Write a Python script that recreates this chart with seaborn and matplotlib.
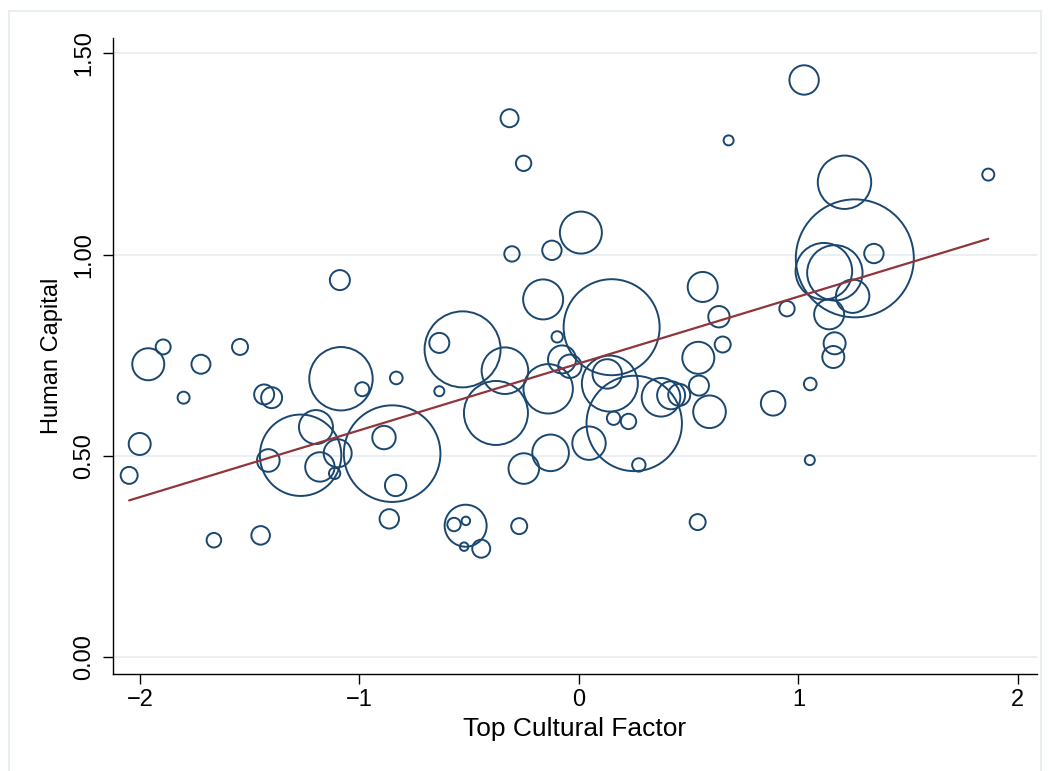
import numpy as np
import pandas as pd
import matplotlib
matplotlib.use("Agg")
import matplotlib.pyplot as plt
from matplotlib.patches import Rectangle
import seaborn as sns

# Country-level observations: cultural factor score, human capital index, population weight
culture = [
    -2.049, -2.001, -1.962, -1.894, -1.801, -1.722, -1.663, -1.544, -1.450, -1.434,
    -1.400, -1.415, -1.268, -1.198, -1.180, -1.099, -1.113, -1.084, -0.987, -0.832,
    -0.851, -0.888, -0.835, -0.864, -1.089, -0.636, -0.636, -0.530, -0.516, -0.569,
    -0.515, -0.523, -0.445, -0.272, -0.316, -0.252, -0.305, -0.123, 0.009, -0.163,
    -0.099, -0.337, -0.378, -0.140, -0.077, -0.041, 0.149, 0.141, 0.129, 0.252,
    0.158, 0.226, 0.273, 0.046, -0.129, -0.251, 0.374, 0.420, 0.457, 0.564,
    0.638, 0.655, 0.544, 0.547, 0.595, 0.541, 0.682, 0.885, 0.948, 1.054,
    1.052, 1.026, 1.210, 1.257, 1.116, 1.166, 1.344, 1.247, 1.140, 1.165,
    1.159, 1.865,
]
human_capital = [
    0.452, 0.530, 0.728, 0.771, 0.645, 0.728, 0.291, 0.771, 0.303, 0.653,
    0.645, 0.489, 0.502, 0.572, 0.473, 0.507, 0.457, 0.692, 0.666, 0.694,
    0.506, 0.546, 0.427, 0.344, 0.937, 0.781, 0.661, 0.765, 0.327, 0.330,
    0.339, 0.275, 0.270, 0.326, 1.339, 1.227, 1.002, 1.011, 1.055, 0.889,
    0.796, 0.712, 0.607, 0.667, 0.740, 0.723, 0.820, 0.680, 0.704, 0.581,
    0.594, 0.586, 0.478, 0.532, 0.508, 0.469, 0.646, 0.651, 0.652, 0.920,
    0.846, 0.777, 0.744, 0.675, 0.610, 0.336, 1.284, 0.631, 0.866, 0.679,
    0.490, 1.434, 1.180, 0.991, 0.959, 0.955, 1.003, 0.897, 0.852, 0.780,
    0.746, 1.199,
]
weight = [
    72, 121, 256, 56, 36, 90, 53, 64, 86, 100,
    110, 128, 1656, 289, 216, 196, 32, 1005, 49, 40,
    2333, 137, 114, 94, 100, 100, 25, 1444, 441, 45,
    18, 18, 81, 64, 81, 59, 59, 94, 441, 400,
    32, 543, 1024, 610, 196, 137, 2304, 784, 216, 2275,
    45, 59, 45, 279, 335, 234, 372, 196, 121, 225,
    114, 64, 256, 100, 266, 64, 25, 151, 59, 40,
    25, 216, 713, 3481, 801, 767, 94, 279, 225, 121,
    121, 36,
]

# Weighted linear fit
fit_intercept = 0.730
fit_slope = 0.166

x_ticks = [-2, -1, 0, 1, 2]
y_ticks = [0.0, 0.5, 1.0, 1.5]
x_title = "Top Cultural Factor"
y_title = "Human Capital"

NAVY = "#1a476f"
MAROON = "#90353b"
GRID = "#e8eff1"
FRAME = "#e8eff1"

sns.set_theme(style="white")
plt.rcParams["font.family"] = ["Liberation Sans", "DejaVu Sans"]

W, H = 1049, 771
fig = plt.figure(figsize=(W / 100, H / 100), dpi=100)
left, right, top, bottom = 112.7, 1037.0, 37.7, 674.3
ax = fig.add_axes([left / W, 1 - bottom / H, (right - left) / W, (bottom - top) / H])

df = pd.DataFrame({"culture": culture, "hc": human_capital, "weight": weight})

# marker area proportional to weight (points^2)
w_max = max(weight)
area_scale = 2.0736
sns.scatterplot(
    data=df, x="culture", y="hc", size="weight",
    sizes=(0, area_scale * w_max), size_norm=(0, w_max),
    color=NAVY, facecolor="none", edgecolor=NAVY, linewidth=1.4,
    legend=False, ax=ax, zorder=3,
)

xs = np.array([df["culture"].min(), df["culture"].max()])
sns.lineplot(x=xs, y=fit_intercept + fit_slope * xs, color=MAROON,
             linewidth=1.6, ax=ax, zorder=4)

ax.set_xlim(-2.124, 2.087)
ax.set_ylim(-0.042, 1.539)
ax.set_xticks(x_ticks)
ax.set_yticks(y_ticks)
ax.set_yticklabels([f"{v:.2f}" for v in y_ticks], rotation=90, va="center")

ax.yaxis.grid(True, color=GRID, linewidth=1.3)
ax.xaxis.grid(False)
ax.set_axisbelow(True)

for side in ("top", "right"):
    ax.spines[side].set_visible(False)
for side in ("left", "bottom"):
    ax.spines[side].set_color("black")
    ax.spines[side].set_linewidth(1.0)

ax.tick_params(axis="both", which="major", bottom=True, left=True,
               direction="out", length=7.5, width=1.0, color="black",
               labelsize=17, labelcolor="black")
ax.tick_params(axis="x", pad=3)
ax.tick_params(axis="y", pad=5)

ax.set_xlabel(x_title, fontsize=19, color="black")
ax.set_ylabel(y_title, fontsize=17, color="black")
ax.xaxis.set_label_coords(0.5, (bottom - 729) / (bottom - top))
ax.xaxis.label.set_verticalalignment("center")
ax.yaxis.set_label_coords((52 - left) / (right - left), 0.5)
ax.yaxis.label.set_verticalalignment("center")

fig.patches.append(Rectangle((9 / W, -0.05), (1041 - 9) / W, 1.05 - 11 / H,
                             transform=fig.transFigure, fill=False,
                             edgecolor=FRAME, linewidth=1.5, zorder=0))

fig.savefig("out.png", dpi=100)
